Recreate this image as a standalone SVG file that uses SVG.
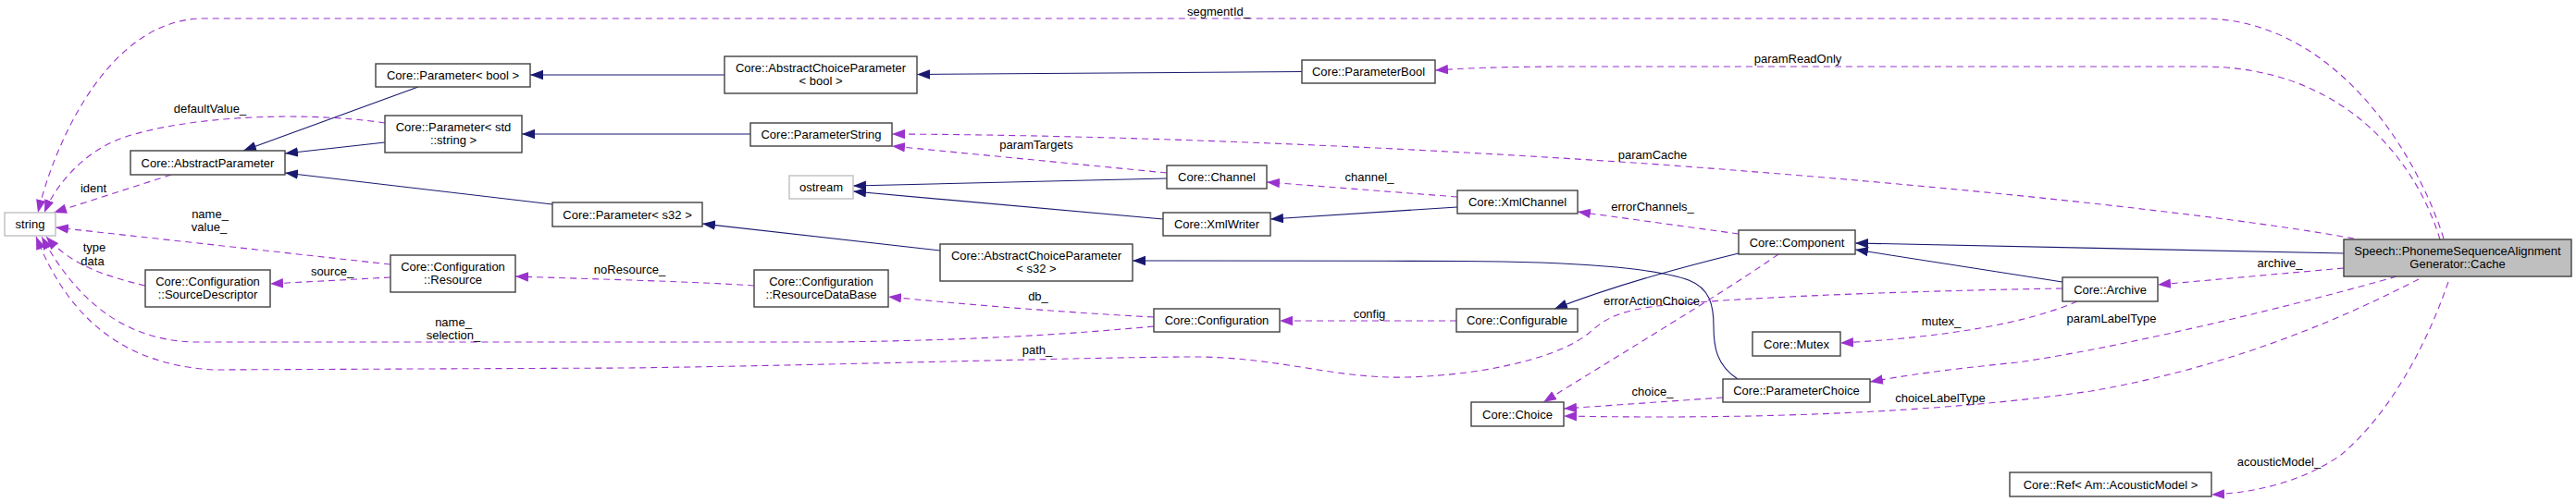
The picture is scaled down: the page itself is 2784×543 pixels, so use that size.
<svg xmlns="http://www.w3.org/2000/svg" width="2784" height="543" viewBox="0 0 2784 543">
<style>
text{font-family:"Liberation Sans",Arial,Helvetica,sans-serif;font-size:13px;fill:#000;text-anchor:middle}
.n rect{fill:#fff;stroke:#404040;stroke-width:1.4}
.n.ext rect{stroke:#bfbfbf}
.n.main rect{fill:#bfbfbf}
.inh{fill:none;stroke:#191970;stroke-width:1.1;marker-end:url(#an)}
.use{fill:none;stroke:#9a32cd;stroke-width:1.1;stroke-dasharray:7,5;marker-end:url(#ap)}
</style>
<defs>
<marker id="an" markerUnits="userSpaceOnUse" markerWidth="14" markerHeight="11" viewBox="0 0 12 9" refX="12" refY="4.5" orient="auto"><path d="M0,0 L12,4.5 L0,9 z" fill="#191970"/></marker>
<marker id="ap" markerUnits="userSpaceOnUse" markerWidth="14" markerHeight="11" viewBox="0 0 12 9" refX="12" refY="4.5" orient="auto"><path d="M0,0 L12,4.5 L0,9 z" fill="#9a32cd"/></marker>
</defs>
<rect width="2784" height="543" fill="#fff"/>
<g id="connectors">
<path class="inh" d="M452,94 L263,163"/>
<path class="inh" d="M416,154 L308,166"/>
<path class="inh" d="M597,221 L308,187"/>
<path class="inh" d="M783,81 L573,81"/>
<path class="inh" d="M1407,77.5 L991,80.5"/>
<path class="inh" d="M811,145 L564,145"/>
<path class="inh" d="M1261,193 L922,201"/>
<path class="inh" d="M1257,237 L922,207"/>
<path class="inh" d="M1575,224 L1373,237"/>
<path class="inh" d="M1016,271 L759,242"/>
<path class="inh" d="M1878,410 C1855,395 1852,375 1852,353 C1852,330 1848,312 1825,303 C1790,290 1700,283 1580,282.5 C1450,282 1300,282 1224,282"/>
<path class="inh" d="M1879,274 Q1760,303 1680,334"/>
<path class="inh" d="M2533,274 L2005,263"/>
<path class="inh" d="M2229,305 L2005,270"/>

<path class="use" d="M2641,258 C2610,160 2520,20 2380,20 L220,20 C120,20 60,150 41,230"/>
<text x="1317" y="16.5">segmentId_</text>
<path class="use" d="M2637,259 C2610,170 2530,72 2380,72 L1700,72 C1620,72 1580,74 1551,76"/>
<text x="1943" y="67.5">paramReadOnly</text>
<path class="use" d="M416,133 C330,120 200,125 130,150 C90,165 60,200 48,230"/>
<text x="227" y="121.5">defaultValue_</text>
<path class="use" d="M185,189 L58,230"/>
<text x="101" y="207.5">ident</text>
<path class="use" d="M422,286 L60,246"/>
<text x="227" y="235.5">name_</text>
<text x="226" y="249.5">value_</text>
<path class="use" d="M157,309 C110,298 75,285 50,256"/>
<text x="102" y="272">type</text>
<text x="100" y="287">data</text>
<path class="use" d="M422,300 L292,307"/>
<text x="359" y="297.5">source_</text>
<path class="use" d="M815,309 C760,305 650,302 557,299"/>
<text x="680.5" y="296">noResource_</text>
<path class="use" d="M1247,343 Q1100,335 960,321"/>
<text x="1122" y="324.5">db_</text>
<path class="use" d="M1247,353 C1150,362 1050,368 900,370 L210,370 C130,368 80,320 45,256"/>
<text x="490" y="352.5">name_</text>
<text x="490" y="367">selection_</text>
<path class="use" d="M2229,312 C2100,314 1900,320 1800,330 C1740,336 1730,350 1715,362 C1690,382 1620,405 1520,408 C1440,410 1380,385 1283,386 C1150,387 900,395 680,398 L230,400 C150,395 80,360 39,256"/>
<text x="1121" y="382.5">path_</text>
<path class="use" d="M1922,275 C1870,312 1740,390 1668,435"/>
<text x="1785" y="329.5">errorActionChoice</text>
<path class="use" d="M1879,253 L1705,229"/>
<text x="1786" y="227.5">errorChannels_</text>
<path class="use" d="M1575,213 L1369,197"/>
<text x="1480" y="195.5">channel_</text>
<path class="use" d="M1261,187 L964,158"/>
<text x="1120" y="160.5">paramTargets</text>
<path class="use" d="M2544,258 C2400,232 2100,200 1780,177 C1500,158 1200,146 964,145"/>
<text x="1786" y="171.5">paramCache</text>
<path class="use" d="M1574,347 L1383,347"/>
<text x="1480" y="343.5">config</text>
<path class="use" d="M2533,290 L2332,308"/>
<text x="2464" y="288.5">archive_</text>
<path class="use" d="M2245,326 C2190,350 2100,365 1989,371"/>
<text x="2098" y="351.5">mutex_</text>
<path class="use" d="M2590,299 C2500,325 2300,375 2180,392 C2100,400 2060,406 2021,413"/>
<text x="2282" y="348.5">paramLabelType</text>
<path class="use" d="M2614,302 C2540,340 2420,395 2260,423 C2100,446 1900,454 1690,450"/>
<text x="2097" y="435">choiceLabelType</text>
<path class="use" d="M1862,430 L1690,442"/>
<text x="1786" y="427.5">choice_</text>
<path class="use" d="M2646,305 C2620,380 2580,450 2530,492 C2490,520 2440,533 2390,535"/>
<text x="2463" y="503.5">acousticModel_</text>
</g>
<g id="n_string" class="n ext"><rect x="5" y="230" width="55" height="25"/><text x="32.5" y="247">string</text></g>
<g id="n_abstractparameter" class="n"><rect x="141" y="163" width="167" height="26"/><text x="224.5" y="180.5">Core::AbstractParameter</text></g>
<g id="n_parameter_bool" class="n"><rect x="406" y="69" width="167" height="25"/><text x="489.5" y="86">Core::Parameter&lt; bool &gt;</text></g>
<g id="n_parameter_string" class="n"><rect x="416" y="125" width="148" height="40"/><text x="490" y="141.5">Core::Parameter&lt; std</text><text x="490" y="155.5">::string &gt;</text></g>
<g id="n_parameter_s32" class="n"><rect x="597" y="219" width="162" height="26"/><text x="678" y="236.5">Core::Parameter&lt; s32 &gt;</text></g>
<g id="n_sourcedescriptor" class="n"><rect x="157" y="292" width="135" height="40"/><text x="224.5" y="308.5">Core::Configuration</text><text x="224.5" y="322.5">::SourceDescriptor</text></g>
<g id="n_resource" class="n"><rect x="422" y="276" width="135" height="40"/><text x="489.5" y="292.5">Core::Configuration</text><text x="489.5" y="306.5">::Resource</text></g>
<g id="n_abschoice_bool" class="n"><rect x="783" y="61" width="208" height="40"/><text x="887" y="77.5">Core::AbstractChoiceParameter</text><text x="887" y="91.5">&lt; bool &gt;</text></g>
<g id="n_parameterstring" class="n"><rect x="811" y="133" width="153" height="25"/><text x="887.5" y="150">Core::ParameterString</text></g>
<g id="n_ostream" class="n ext"><rect x="853" y="190" width="69" height="25"/><text x="887.5" y="207">ostream</text></g>
<g id="n_resourcedatabase" class="n"><rect x="815" y="292" width="145" height="40"/><text x="887.5" y="308.5">Core::Configuration</text><text x="887.5" y="322.5">::ResourceDataBase</text></g>
<g id="n_abschoice_s32" class="n"><rect x="1016" y="264" width="208" height="40"/><text x="1120" y="280.5">Core::AbstractChoiceParameter</text><text x="1120" y="294.5">&lt; s32 &gt;</text></g>
<g id="n_channel" class="n"><rect x="1261" y="179" width="108" height="25"/><text x="1315" y="196">Core::Channel</text></g>
<g id="n_xmlwriter" class="n"><rect x="1257" y="230" width="116" height="25"/><text x="1315" y="247">Core::XmlWriter</text></g>
<g id="n_configuration" class="n"><rect x="1247" y="334" width="136" height="25"/><text x="1315" y="351">Core::Configuration</text></g>
<g id="n_parameterbool" class="n"><rect x="1407" y="65" width="144" height="25"/><text x="1479" y="82">Core::ParameterBool</text></g>
<g id="n_xmlchannel" class="n"><rect x="1575" y="206" width="130" height="25"/><text x="1640" y="223">Core::XmlChannel</text></g>
<g id="n_configurable" class="n"><rect x="1574" y="334" width="131" height="25"/><text x="1639.5" y="351">Core::Configurable</text></g>
<g id="n_choice" class="n"><rect x="1590" y="435" width="100" height="26"/><text x="1640" y="452.5">Core::Choice</text></g>
<g id="n_component" class="n"><rect x="1879" y="249" width="126" height="26"/><text x="1942" y="266.5">Core::Component</text></g>
<g id="n_mutex" class="n"><rect x="1894" y="359" width="95" height="26"/><text x="1941.5" y="376.5">Core::Mutex</text></g>
<g id="n_parameterchoice" class="n"><rect x="1862" y="410" width="159" height="25"/><text x="1941.5" y="427">Core::ParameterChoice</text></g>
<g id="n_ref_acousticmodel" class="n"><rect x="2172" y="511" width="218" height="26"/><text x="2281" y="528.5">Core::Ref&lt; Am::AcousticModel &gt;</text></g>
<g id="n_archive" class="n"><rect x="2229" y="300" width="103" height="26"/><text x="2280.5" y="317.5">Core::Archive</text></g>
<g id="n_cache" class="n main"><rect x="2533" y="259" width="246" height="40"/><text x="2656" y="275.5">Speech::PhonemeSequenceAlignment</text><text x="2656" y="289.5">Generator::Cache</text></g>
</svg>
